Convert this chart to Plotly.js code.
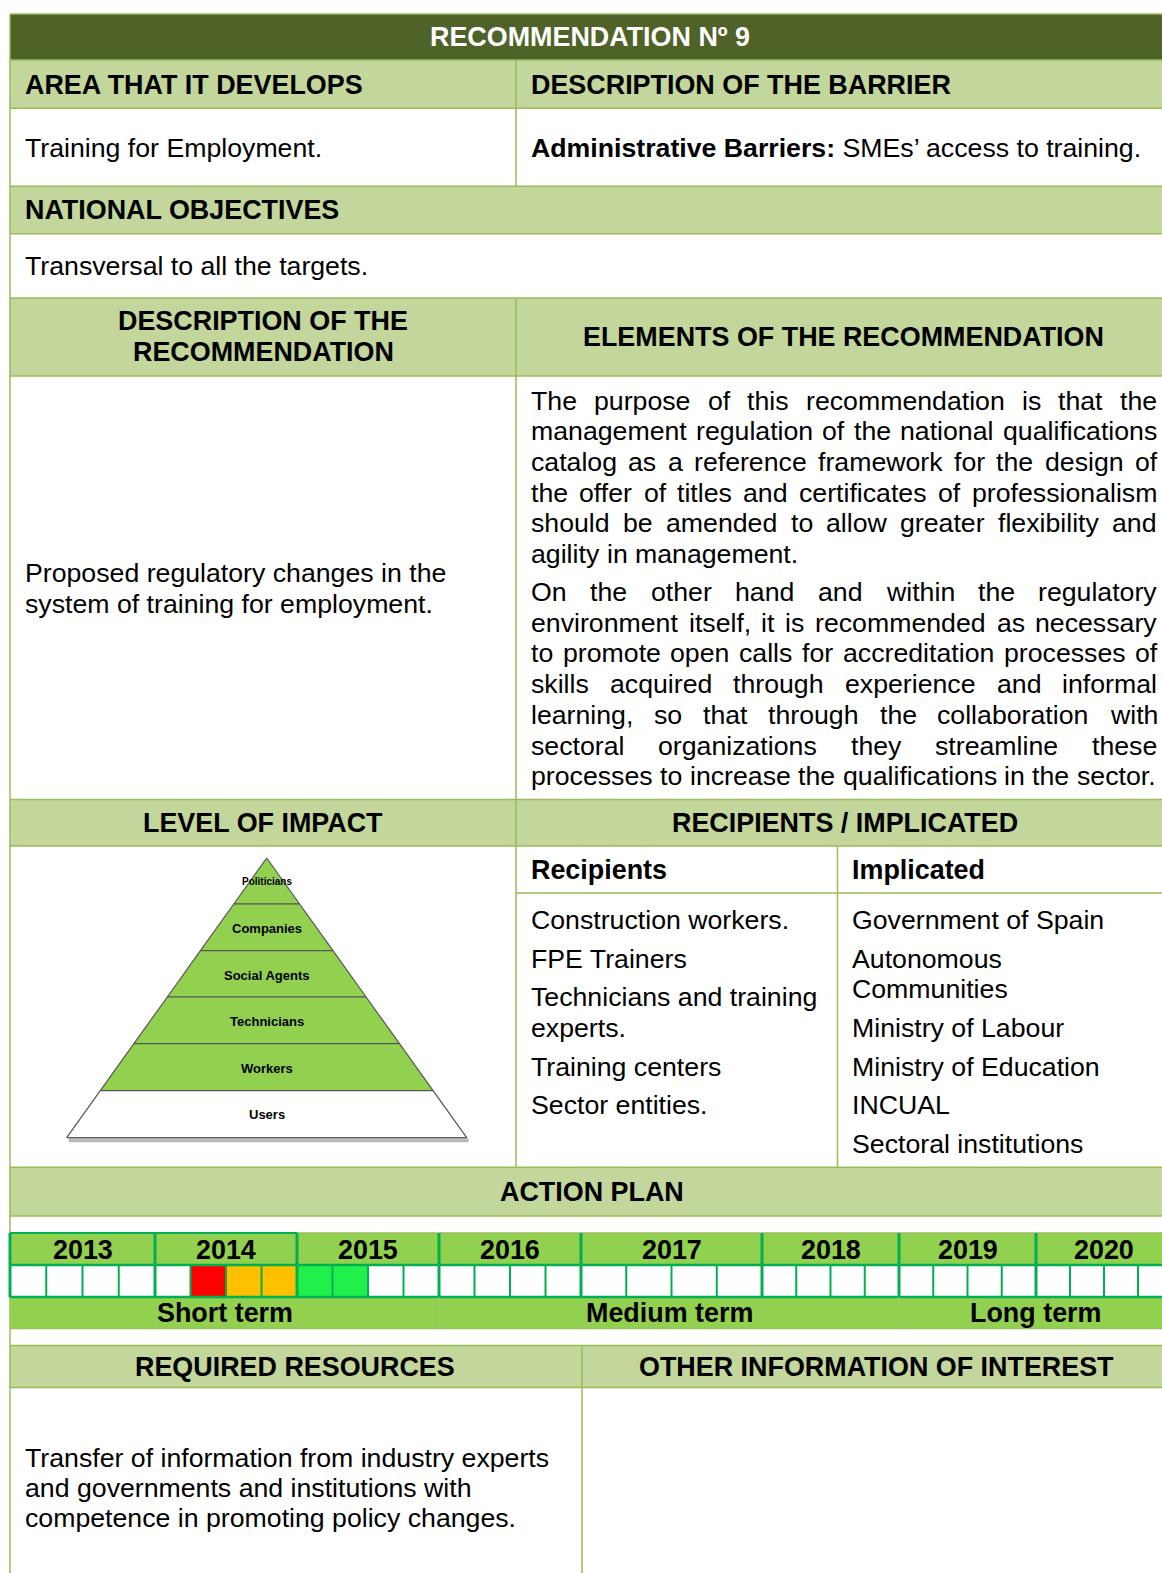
<!DOCTYPE html>
<html><head><meta charset="utf-8">
<script src="https://cdn.plot.ly/plotly-3.0.1.min.js"></script>
<style>html,body{margin:0;padding:0;background:#fff}#chart{width:1162px;height:1573px}</style>
</head><body><div id="chart"></div>
<script>
// ---------------- DATA ----------------
const titleText = 'RECOMMENDATION Nº 9';
const areaHeader = 'AREA THAT IT DEVELOPS';
const barrierHeader = 'DESCRIPTION OF THE BARRIER';
const areaText = 'Training for Employment.';
const barrierBold = 'Administrative Barriers:';
const barrierText = ' SMEs’ access to training.';
const objectivesHeader = 'NATIONAL OBJECTIVES';
const objectivesText = 'Transversal to all the targets.';
const descHeaderLines = ['DESCRIPTION OF THE', 'RECOMMENDATION'];
const elementsHeader = 'ELEMENTS OF THE RECOMMENDATION';
const descLines = ['Proposed regulatory changes in the', 'system of training for employment.'];
const paragraph1 = [
  'The purpose of this recommendation is that the',
  'management regulation of the national qualifications',
  'catalog as a reference framework for the design of',
  'the offer of titles and certificates of professionalism',
  'should be amended to allow greater flexibility and',
  'agility in management.'
];
const paragraph2 = [
  'On the other hand and within the regulatory',
  'environment itself, it is recommended as necessary',
  'to promote open calls for accreditation processes of',
  'skills acquired through experience and informal',
  'learning, so that through the collaboration with',
  'sectoral organizations they streamline these',
  'processes to increase the qualifications in the sector.'
];
const impactHeader = 'LEVEL OF IMPACT';
const recipientsHeader = 'RECIPIENTS / IMPLICATED';
const pyramidLevels = ['Politicians', 'Companies', 'Social Agents', 'Technicians', 'Workers', 'Users'];
const pyramidActive = [1, 1, 1, 1, 1, 0];
const recipientsTitle = 'Recipients';
const implicatedTitle = 'Implicated';
const recipientsLines = ['Construction workers.', 'FPE Trainers', 'Technicians and training', 'experts.', 'Training centers', 'Sector entities.'];
const implicatedLines = ['Government of Spain', 'Autonomous', 'Communities', 'Ministry of Labour', 'Ministry of Education', 'INCUAL', 'Sectoral institutions'];
const actionHeader = 'ACTION PLAN';
const years = ['2013', '2014', '2015', '2016', '2017', '2018', '2019', '2020'];
// quarter status: 0 none, 1 red, 2 orange, 3 green
const quarterStatus = [0,0,0,0, 0,1,2,2, 3,3,0,0, 0,0,0,0, 0,0,0,0, 0,0,0,0, 0,0,0,0, 0,0,0,0];
const terms = ['Short term', 'Medium term', 'Long term'];
const termYearCount = [3, 3, 2];
const resourcesHeader = 'REQUIRED RESOURCES';
const otherHeader = 'OTHER INFORMATION OF INTEREST';
const resourcesLines = ['Transfer of information from industry experts', 'and governments and institutions with', 'competence in promoting policy changes.'];

// ---------------- LAYOUT / STYLE ----------------
const FONT = 'Liberation Sans, Arial, sans-serif';
const FS = 26.7, FSB = 26.9;
const DARK = '#4F6228', HEAD = '#C3D69B', BORDER = '#9BBB59', TL = '#92D050', CELLB = '#00B050';
const STATUS_COL = ['#FFFFFF', '#FF0000', '#FFC000', '#22F04A'];
const L = 10, R = 1185, C1 = 516, C2 = 837.5, C3 = 582;
const Y = {top:14, h1:60, r1:108.3, h2:186.3, r2:233.8, h3:298, r3:376, h4:799.5, r4:846, sub:893, h5:1167.3, h5b:1216,
           t0:1233, t1:1265, t2:1297, t3:1328.5, h6:1345.5, r6:1387.5, bottom:1580};
const yearEdges = [10, 155, 297, 439, 581, 762, 899, 1036, 1172];

const shapes = [];
const ann = [];
function rect(x0, y0, x1, y1, fill) {
  shapes.push({type:'rect', xref:'x', yref:'y', x0, y0, x1, y1, fillcolor:fill, line:{width:0}, layer:'below'});
}
function line(x0, y0, x1, y1, color, w) {
  shapes.push({type:'line', xref:'x', yref:'y', x0, y0, x1, y1, line:{color, width:w}, layer:'below'});
}
function text(t, x, y, opts) {
  opts = opts || {};
  ann.push({text: opts.bold ? '<b>' + t + '</b>' : t, x, y, xref:'x', yref:'y', showarrow:false,
    xanchor: opts.anchor || 'left', yanchor:'middle', borderpad:0, borderwidth:0,
    font:{family:FONT, size: opts.size || (opts.bold ? FSB : FS), color: opts.color || '#000'}});
}

// fills
rect(L, Y.top, R, Y.h1, DARK);
rect(L, Y.h1, R, Y.r1, HEAD);
rect(L, Y.h2, R, Y.r2, HEAD);
rect(L, Y.h3, R, Y.r3, HEAD);
rect(L, Y.h4, R, Y.r4, HEAD);
rect(L, Y.h5, R, Y.h5b, HEAD);
rect(L, Y.h6, R, Y.r6, HEAD);

// borders
[Y.top, Y.h1, Y.r1, Y.h2, Y.r2, Y.h3, Y.r3, Y.h4, Y.r4, Y.h5, Y.h5b, Y.h6, Y.r6].forEach(y => line(L, y, R, y, BORDER, 1.5));
line(L, Y.top, L, Y.bottom, BORDER, 1.5);
line(C1, Y.h1, C1, Y.h2, BORDER, 1.5);
line(C1, Y.h3, C1, Y.h5, BORDER, 1.5);
line(C2, Y.r4, C2, Y.h5, BORDER, 1.5);
line(C1, Y.sub, R, Y.sub, BORDER, 1.5);
line(C3, Y.h6, C3, Y.bottom, BORDER, 1.5);

// texts
text(titleText, 590, 37, {bold:true, anchor:'center', color:'#FFFFFF'});
text(areaHeader, 25, 84.5, {bold:true});
text(barrierHeader, 531, 84.5, {bold:true});
text(areaText, 25, 147.5);
ann.push({text:'<b>' + barrierBold + '</b>' + barrierText, x:531, y:147.5, xref:'x', yref:'y', showarrow:false,
  xanchor:'left', yanchor:'middle', borderpad:0, borderwidth:0, font:{family:FONT, size:FS, color:'#000'}});
text(objectivesHeader, 25, 210, {bold:true});
text(objectivesText, 25, 266);
descHeaderLines.forEach((t, i) => text(t, 263, 321 + i * 30.5, {bold:true, anchor:'center'}));
text(elementsHeader, 843, 337, {bold:true, anchor:'center'});
descLines.forEach((t, i) => text(t, 25, 573 + i * 30.5));

// justified paragraph
const ctx = document.createElement('canvas').getContext('2d');
ctx.font = FS + 'px "Liberation Sans"';
const PX0 = 531, PX1 = 1157;
function justify(lines, y0) {
  lines.forEach((ln, li) => {
    const y = y0 + li * 30.7;
    const words = ln.split(' ');
    const ws = words.map(w => ctx.measureText(w).width);
    const total = ws.reduce((a, b) => a + b, 0);
    const last = li === lines.length - 1;
    let gap = last ? ctx.measureText(' ').width : (PX1 - PX0 - total) / (words.length - 1);
    if (last && total + gap * (words.length - 1) > PX1 - PX0) gap = (PX1 - PX0 - total) / (words.length - 1);
    let x = PX0;
    words.forEach((w, i) => { text(w, x, y); x += ws[i] + gap; });
  });
}
justify(paragraph1, 400.5);
justify(paragraph2, 592);

text(impactHeader, 263, 822.5, {bold:true, anchor:'center'});
text(recipientsHeader, 844.5, 822.5, {bold:true, anchor:'center'});
text(recipientsTitle, 531, 869.5, {bold:true});
text(implicatedTitle, 852, 869.5, {bold:true});
const recY = [920, 959, 997, 1028, 1067, 1105];
recipientsLines.forEach((t, i) => text(t, 531, recY[i]));
const impY = [920, 959, 989, 1028, 1067, 1105, 1143.5];
implicatedLines.forEach((t, i) => text(t, 852, impY[i]));

text(actionHeader, 592, 1191.5, {bold:true, anchor:'center'});

// timeline
rect(L, Y.t0, yearEdges[yearEdges.length - 1] + 10, Y.t1, TL);
rect(L, Y.t2, R, Y.t3, TL);
years.forEach((yr, i) => {
  const e0 = yearEdges[i], e1 = yearEdges[i + 1];
  for (let q = 0; q < 4; q++) {
    const qx0 = e0 + q * (e1 - e0) / 4, qx1 = e0 + (q + 1) * (e1 - e0) / 4;
    rect(qx0, Y.t1, qx1, Y.t2, STATUS_COL[quarterStatus[i * 4 + q]]);
    if (q > 0) line(qx0, Y.t1, qx0, Y.t2, CELLB, 2);
  }
  text(yr, (e0 + e1) / 2, 1249.5, {bold:true, anchor:'center'});
});
line(L, Y.t0, yearEdges[2], Y.t0, CELLB, 2);
line(yearEdges[2], Y.t0, R, Y.t0, BORDER, 1.5);
line(L, Y.t1, R, Y.t1, CELLB, 2.5);
line(L, Y.t2, R, Y.t2, CELLB, 2.5);
yearEdges.forEach(x => line(x, Y.t0, x, Y.t2, CELLB, 3));
line(L, Y.t3, R, Y.t3, BORDER, 1.5);
let yi = 0;
terms.forEach((t, i) => {
  const e0 = yearEdges[yi], e1 = yearEdges[yi + termYearCount[i]];
  if (i > 0) line(e0, Y.t2, e0, Y.t3, '#A9C46C', 1);
  text(t, (e0 + e1) / 2, 1313, {bold:true, anchor:'center'});
  yi += termYearCount[i];
});

text(resourcesHeader, 295, 1366.5, {bold:true, anchor:'center'});
text(otherHeader, 876.5, 1366.5, {bold:true, anchor:'center'});
resourcesLines.forEach((t, i) => text(t, 25, 1457.5 + i * 30.3));

// pyramid
const apexY = 858, baseY = 1137.7, cx = 266.7, halfBase = 200;
const levelEdges = [858, 904, 950.7, 997, 1043.7, 1090.7, 1137.7];
const labelY = [881, 928, 975.7, 1021.7, 1068, 1114];
const hw = y => (y - apexY) / (baseY - apexY) * halfBase;
const traces = [];
traces.push({x:[cx - halfBase + 2, cx + halfBase + 2], y:[baseY + 2.5, baseY + 2.5], mode:'lines',
  line:{color:'rgba(0,0,0,0.28)', width:4}, hoverinfo:'skip', showlegend:false});
pyramidLevels.forEach((name, i) => {
  const y0 = levelEdges[i], y1 = levelEdges[i + 1];
  traces.push({
    x:[cx - hw(y0), cx + hw(y0), cx + hw(y1), cx - hw(y1), cx - hw(y0)],
    y:[y0, y0, y1, y1, y0], mode:'lines', fill:'toself',
    fillcolor: pyramidActive[i] ? TL : '#FFFFFF',
    line:{color:'#555555', width:1.2}, hoverinfo:'skip', showlegend:false
  });
  text(name, cx, labelY[i], {bold:true, anchor:'center', size: i === 0 ? 10 : 13});
});

Plotly.newPlot('chart', traces, {
  width:1162, height:1573, margin:{l:0, r:0, t:0, b:0},
  paper_bgcolor:'#FFFFFF', plot_bgcolor:'#FFFFFF',
  xaxis:{range:[0, 1162], visible:false, fixedrange:true},
  yaxis:{range:[1573, 0], visible:false, fixedrange:true},
  shapes, annotations: ann, showlegend:false
}, {displayModeBar:false, staticPlot:true});
</script></body></html>
